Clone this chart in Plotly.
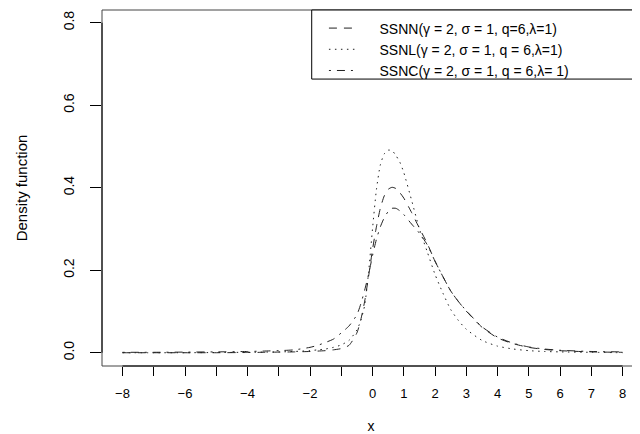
import plotly.graph_objects as go

# ---- data ----
x_vals = [-8, -7, -6, -5, -4, -3.5, -3, -2.5, -2, -1.75, -1.5, -1.25, -1, -0.75, -0.5,
          -0.375, -0.25, -0.125, 0, 0.125, 0.25, 0.375, 0.5, 0.625, 0.75, 0.875, 1,
          1.25, 1.5, 1.75, 2, 2.25, 2.5, 2.75, 3, 3.5, 4, 4.5, 5, 5.5, 6, 7, 8]

ssnn = [0.0, 0.0, 0.0, 0.0, 0.0005, 0.001, 0.0015, 0.002, 0.003, 0.004, 0.005, 0.007, 0.010,
        0.018, 0.048, 0.080, 0.125, 0.185, 0.250, 0.305, 0.350, 0.380, 0.396, 0.401, 0.398,
        0.388, 0.375, 0.340, 0.302, 0.265, 0.222, 0.185, 0.150, 0.124, 0.101, 0.062, 0.036,
        0.022, 0.013, 0.008, 0.005, 0.002, 0.001]

ssnl = [0.0, 0.0, 0.0, 0.0005, 0.001, 0.0015, 0.002, 0.003, 0.005, 0.007, 0.009, 0.013, 0.019,
        0.030, 0.055, 0.078, 0.115, 0.195, 0.300, 0.395, 0.455, 0.482, 0.491, 0.490, 0.478,
        0.462, 0.437, 0.370, 0.300, 0.245, 0.190, 0.145, 0.105, 0.078, 0.057, 0.030, 0.016,
        0.009, 0.005, 0.003, 0.002, 0.001, 0.0]

ssnc = [0.001, 0.001, 0.0015, 0.002, 0.003, 0.004, 0.005, 0.007, 0.013, 0.018, 0.025, 0.033,
        0.048, 0.065, 0.092, 0.118, 0.152, 0.190, 0.235, 0.275, 0.305, 0.327, 0.342, 0.350,
        0.350, 0.344, 0.335, 0.312, 0.290, 0.262, 0.222, 0.185, 0.150, 0.124, 0.102, 0.063,
        0.038, 0.023, 0.014, 0.009, 0.006, 0.003, 0.002]

series_names = ["\u00a0\u00a0\u00a0\u00a0SSNN(\u03b3 = 2, \u03c3 = 1, q=6,\u03bb=1)",
                "\u00a0\u00a0\u00a0\u00a0SSNL(\u03b3 = 2, \u03c3 = 1, q = 6,\u03bb=1)",
                "\u00a0\u00a0\u00a0\u00a0SSNC(\u03b3 = 2, \u03c3 = 1, q = 6,\u03bb= 1)"]

x_ticks = list(range(-8, 9))
x_ticktext = ["\u22128", "", "\u22126", "", "\u22124", "", "\u22122", "", "0",
              "1", "2", "3", "4", "5", "6", "7", "8"]
y_ticks = [0.0, 0.2, 0.4, 0.6, 0.8]
y_ticktext = ["0.0", "0.2", "0.4", "0.6", "0.8"]

FONT = "Liberation Sans, Arial, Helvetica, sans-serif"

fig = go.Figure()
styles = ["8px,7px", "1.5px,4.5px", "2px,6px,8px,6px"]
for name, ys, dash in zip(series_names, [ssnn, ssnl, ssnc], styles):
    fig.add_trace(go.Scatter(
        x=x_vals, y=ys, mode="lines", name=name,
        line=dict(color="#222222", width=1, dash=dash, shape="spline", smoothing=0.6),
    ))

# the page body adds an 8px offset, so the figure is 8px smaller than the window
fig.update_layout(
    width=632, height=426,
    margin=dict(l=94, r=0, t=2, b=68),
    paper_bgcolor="white", plot_bgcolor="white",
    font=dict(family=FONT, size=13, color="black"),
    showlegend=True,
    legend=dict(
        x=0.4125, y=0.993, xanchor="left", yanchor="top",
        bgcolor="rgba(0,0,0,0)", borderwidth=0,
        font=dict(family=FONT, size=14, color="black"),
        tracegroupgap=0,
    ),
    xaxis=dict(
        range=[-8.656, 8.56], showgrid=False, zeroline=False, showline=False,
        tickmode="array", tickvals=x_ticks, ticktext=x_ticktext,
        ticks="outside", ticklen=9, tickwidth=1, tickcolor="black",
        ticklabelstandoff=6,
        tickfont=dict(family=FONT, size=13),
        title=dict(text="x", font=dict(family=FONT, size=14), standoff=22),
    ),
    yaxis=dict(
        range=[-0.0322, 0.8308], showgrid=False, zeroline=False, showline=False,
        tickmode="array", tickvals=y_ticks, ticktext=y_ticktext, tickangle=-90,
        ticks="outside", ticklen=11, tickwidth=1, tickcolor="black",
        ticklabelstandoff=10,
        tickfont=dict(family=FONT, size=14),
        title=dict(text="Density function", font=dict(family=FONT, size=15), standoff=30),
    ),
    shapes=[
        # plot frame (box)
        dict(type="rect", xref="paper", yref="paper", x0=0, x1=1.02, y0=0, y1=1,
             line=dict(color="#444444", width=1), layer="below"),
        # legend frame
        dict(type="rect", xref="paper", yref="paper", x0=0.3898, x1=1.02, y0=0.806, y1=1,
             line=dict(color="black", width=1), fillcolor="white", layer="below"),
        # x axis line from first to last tick
        dict(type="line", xref="x", yref="paper", x0=-8, x1=8, y0=0, y1=0,
             line=dict(color="black", width=1)),
        # y axis line from first to last tick
        dict(type="line", xref="paper", yref="y", x0=0, x1=0, y0=0, y1=0.8,
             line=dict(color="black", width=1)),
    ],
)

fig.write_html("out.html")
